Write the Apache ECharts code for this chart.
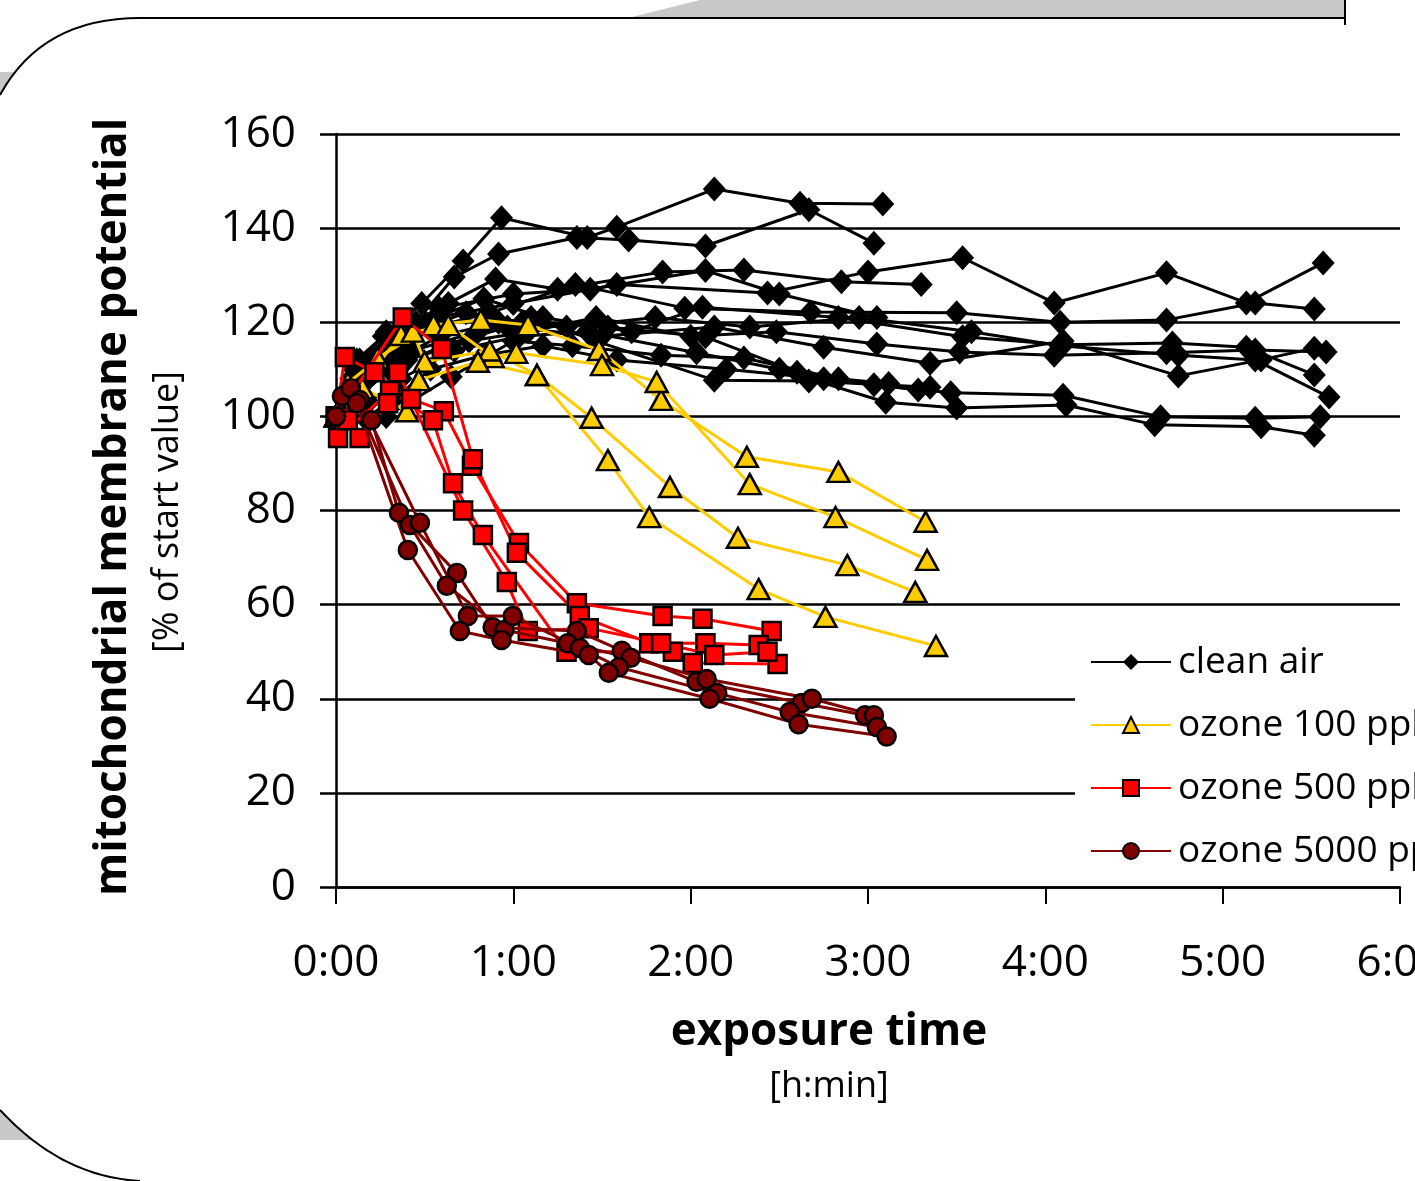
<!DOCTYPE html>
<html>
<head>
<meta charset="utf-8">
<script src="https://cdn.jsdelivr.net/npm/echarts@6/dist/echarts.min.js"></script>
<style>
html, body { margin: 0; padding: 0; background: #fff; }
#chart { width: 1415px; height: 1181px; }
</style>
</head>
<body>
<div id="chart"></div>
<script>
// exposure time in minutes, value in % of start value
const groupNames = ['clean air', 'ozone 100 ppb', 'ozone 500 ppb', 'ozone 5000 ppb'];
const xTickLabels = ['0:00', '1:00', '2:00', '3:00', '4:00', '5:00', '6:00'];
const yTicks = [0, 20, 40, 60, 80, 100, 120, 140, 160];

const cleanAirRuns = [
  [[0,100],[6,110],[17,118],[29,124],[43,133],[56,142.2],[85,138],[95,140.2],[128,148.3],[157,145.3],[185,145.1]],
  [[0,100],[5,106],[15,113],[27,120],[40,129.6],[55,134.5],[81.5,138],[99,137.5],[125,136.2],[160,143.9],[182,136.8]],
  [[0,100],[8,112],[20,116],[38,124],[54,129.2],[75,127],[110.5,130.7],[138,131.1],[171,128.6],[198,128]],
  [[0,100],[7,108],[19,117],[34,121],[60,124],[95,128],[146,126.2],[180,130.7],[212,133.7],[243,124.1],[281,130.5],[308,124.1],[334,132.6]],
  [[0,100],[9,110],[21,115],[33,119],[52,122],[81,128],[118,123],[160.6,122.2],[210,122],[245,120],[281,120.5],[311,124.1],[331,122.8]],
  [[0,100],[4,104],[16,114],[30,120],[50,125],[70,121],[100,118],[124,123.2],[170,121],[212,116.9],[246,115.2],[283,115.6],[308,114.7],[331,108.8]],
  [[0,100],[10,108],[24,112],[45,116],[65,118],[88,121],[120,117],[149,118],[183,115.4],[211,113.7],[243,113],[281,113.5],[311,114.1],[335,113.7]],
  [[0,100],[6,103],[18,110],[36,115],[58,119],[90,117],[128,119],[165,114.7],[201,111.3],[246,116],[285,108.6],[313,112],[331,114.5]],
  [[0,100],[5,108],[13,113],[26,118],[44,122],[63,120],[92,119],[125,116.9],[156,109.4],[182,106.7],[208,105],[246,104.5],[279,99.9],[311,99.6],[333,99.9]],
  [[0,100],[11,103],[22,108],[40,114],[62,117],[85,118],[122,113.5],[150,110],[186,103],[210,101.8],[247,102.4],[277,98.2],[313,97.8],[331,96]],
  [[0,100],[8,106],[20,112],[35,117],[55,120],[78,119],[108,121],[140,119],[177,121],[215,118],[245,115],[285,113],[311,112],[336,104.1]],
  [[0,100],[5,104],[14,110],[26,114],[48,118],[66,121],[88,116],[128,107.7],[160,107.5],[201,106.2]],
  [[0,100],[10,99.5],[20,104],[32,110],[50,113],[70,115],[95,112],[132,110],[165,108],[197,105.6]],
  [[0,100],[7,112],[16,117],[35,123],[60,126],[86,127],[125,131],[150,126],[183,121]],
  [[0,100],[17,100],[39,108.4],[60,116],[80,115],[110,113],[138,112.4],[170,108],[187,107]]
];

const ozone100Runs = [
  [[0,100],[14,112.4],[33,119.4],[49,120.5],[65,119.4],[89,114.1],[110,103.5],[139,91.4],[170,88.2],[199.5,77.6]],
  [[0,100],[22,117.3],[38,119.4],[53,112.6],[61,113.5],[90,110.9],[108.5,107.3],[140,85.6],[169,78.6],[200,69.5]],
  [[0,100],[4,107.1],[26,118],[30,111.6],[52,114],[68,108.8],[86.5,99.7],[113,85],[136,74.2],[173,68.4],[196,62.7]],
  [[0,100],[9,106],[24,101.1],[28,107.7],[48,111.6],[68,108.8],[92,90.7],[106,78.6],[143,63.3],[165.6,57.4],[203,51.2]]
];

const ozone500Runs = [
  [[0,100],[3,112.6],[13,109.4],[25.4,103.7],[36.5,101.1],[46,89.5],[61.9,73.1],[81.5,60.3],[110.5,57.6],[124,57],[147.4,54.4]],
  [[0,100],[5,104.5],[22.6,121],[35.8,114.3],[46.3,90.9],[61.2,71],[82.5,57.6],[106,51.8],[125,51.8],[143,51.4]],
  [[0,100],[0.7,95.4],[18.3,105.4],[32.8,99.2],[39.6,85.8],[49.7,74.8],[78,50],[114,50],[120.7,47.6],[149.4,47.4]],
  [[0,100],[4,99.2],[8,95.4],[17.6,102.8],[21,109.4],[43,80],[57.8,64.8],[64.9,54.4],[85.5,55],[110,51.8],[128,49.3],[146,50]]
];

const ozone5000Runs = [
  [[0,100],[2,104.3],[12,99.2],[21.3,79.5],[40.9,66.7],[53,55.2],[81.5,54.4],[96.7,50.2],[122,43.6],[157.5,39.1],[179,36.5]],
  [[0,100],[5,106],[25,76.9],[37.5,64],[57,54.6],[78.4,51.8],[99.7,48.7],[125.4,44.2],[161,40],[182,36.5]],
  [[0,100],[8,103.5],[28.4,77.4],[44.6,57.6],[59.8,57.6],[82.5,50.8],[95.7,46.7],[129,41.2],[153.5,37.2],[183,34]],
  [[0,100],[7,102.8],[24.3,71.6],[41.9,54.4],[56,52.5],[85.5,49.3],[92.3,45.5],[126.4,40],[156.5,34.6],[186.3,32]]
];

const looks = [
  { runs: cleanAirRuns, line: '#000000', fill: '#000000', symbol: 'diamond', size: [23, 25], border: 0, z: 2 },
  { runs: ozone100Runs, line: '#ffcc00', fill: '#ffcc00', symbol: 'triangle', size: [22, 20], border: 2.5, z: 3 },
  { runs: ozone500Runs, line: '#ff0000', fill: '#ff0000', symbol: 'rect', size: 18, border: 2.5, z: 4 },
  { runs: ozone5000Runs, line: '#800000', fill: '#800000', symbol: 'circle', size: 18, border: 2.5, z: 5 }
];

const FONT = '"Open Sans", "Noto Sans", sans-serif';

let series = [];
looks.forEach(function (g, gi) {
  g.runs.forEach(function (run) {
    series.push({
      type: 'line',
      name: groupNames[gi],
      data: run,
      symbol: g.symbol,
      symbolSize: g.size,
      showSymbol: true,
      showAllSymbol: true,
      silent: true,
      animation: false,
      z: g.z,
      lineStyle: { color: g.line, width: 3 },
      itemStyle: { color: g.fill, borderColor: '#000', borderWidth: g.border },
      emphasis: { disabled: true }
    });
  });
});

const chart = echarts.init(document.getElementById('chart'));
chart.setOption({
  backgroundColor: '#fff',
  animation: false,
  grid: { left: 336, top: 134, right: 15, bottom: 294, containLabel: false, outerBoundsMode: 'none' },
  xAxis: {
    type: 'value',
    min: 0, max: 360, interval: 60,
    axisLine: { lineStyle: { color: '#000', width: 2.5 } },
    axisTick: { show: true, length: 17, lineStyle: { color: '#000', width: 2 } },
    splitLine: { show: false },
    axisLabel: {
      margin: 54, color: '#000', fontSize: 44, fontFamily: FONT,
      formatter: function (v) { return xTickLabels[Math.round(v / 60)]; }
    }
  },
  yAxis: {
    type: 'value',
    min: yTicks[0], max: yTicks[yTicks.length - 1], interval: 20,
    axisLine: { show: true, lineStyle: { color: '#000', width: 2.5 } },
    axisTick: { show: true, length: 16, lineStyle: { color: '#000', width: 2.5 } },
    splitLine: { show: true, lineStyle: { color: '#000', width: 2.5 } },
    axisLabel: { margin: 40, color: '#000', fontSize: 44, fontFamily: FONT }
  },
  legend: {
    data: groupNames,
    orient: 'vertical',
    left: 1075, top: 632,
    padding: [10, 0, 10, 15],
    backgroundColor: '#fff',
    itemWidth: 80, itemHeight: 20, itemGap: 23,
    selectedMode: false,
    textStyle: { color: '#000', fontSize: 37, fontFamily: FONT, lineHeight: 40, padding: [0, 0, 0, 2] }
  },
  graphic: [
    { type: 'polygon', silent: true, shape: { points: [[628, 18], [700, 0], [1345, 0], [1345, 18]] }, style: { fill: '#c8c8c8' } },
    { type: 'polyline', silent: true, shape: { points: [[140, 18], [1345, 18]] }, style: { stroke: '#000', lineWidth: 2, fill: null } },
    { type: 'polyline', silent: true, shape: { points: [[1345, 0], [1345, 25]] }, style: { stroke: '#000', lineWidth: 2, fill: null } },
    { type: 'polygon', silent: true, shape: { points: [[0, 72], [14, 72], [5, 88], [0, 94]] }, style: { fill: '#c8c8c8' } },
    { type: 'bezierCurve', silent: true, shape: { x1: 140, y1: 18, cpx1: 80, cpy1: 18, cpx2: 30, cpy2: 40, x2: 0, y2: 95 }, style: { stroke: '#000', lineWidth: 2, fill: null } },
    { type: 'polygon', silent: true, shape: { points: [[0, 1110], [31, 1140], [0, 1140]] }, style: { fill: '#c8c8c8' } },
    { type: 'bezierCurve', silent: true, shape: { x1: 0, y1: 1110, cpx1: 35, cpy1: 1148, cpx2: 80, cpy2: 1178, x2: 140, y2: 1181 }, style: { stroke: '#000', lineWidth: 2, fill: null } },
    { type: 'text', silent: true, x: 113, y: 507, rotation: Math.PI / 2,
      style: { text: 'mitochondrial membrane potential', fill: '#000', font: 'bold 44px ' + FONT, align: 'center', verticalAlign: 'middle' } },
    { type: 'text', silent: true, x: 168, y: 512, rotation: Math.PI / 2,
      style: { text: '[% of start value]', fill: '#000', font: '36px ' + FONT, align: 'center', verticalAlign: 'middle' } },
    { type: 'text', silent: true, x: 829, y: 1032,
      style: { text: 'exposure time', fill: '#000', font: 'bold 44px ' + FONT, align: 'center', verticalAlign: 'middle' } },
    { type: 'text', silent: true, x: 829, y: 1087,
      style: { text: '[h:min]', fill: '#000', font: '36px ' + FONT, align: 'center', verticalAlign: 'middle' } }
  ],
  series: series
});
</script>
</body>
</html>
